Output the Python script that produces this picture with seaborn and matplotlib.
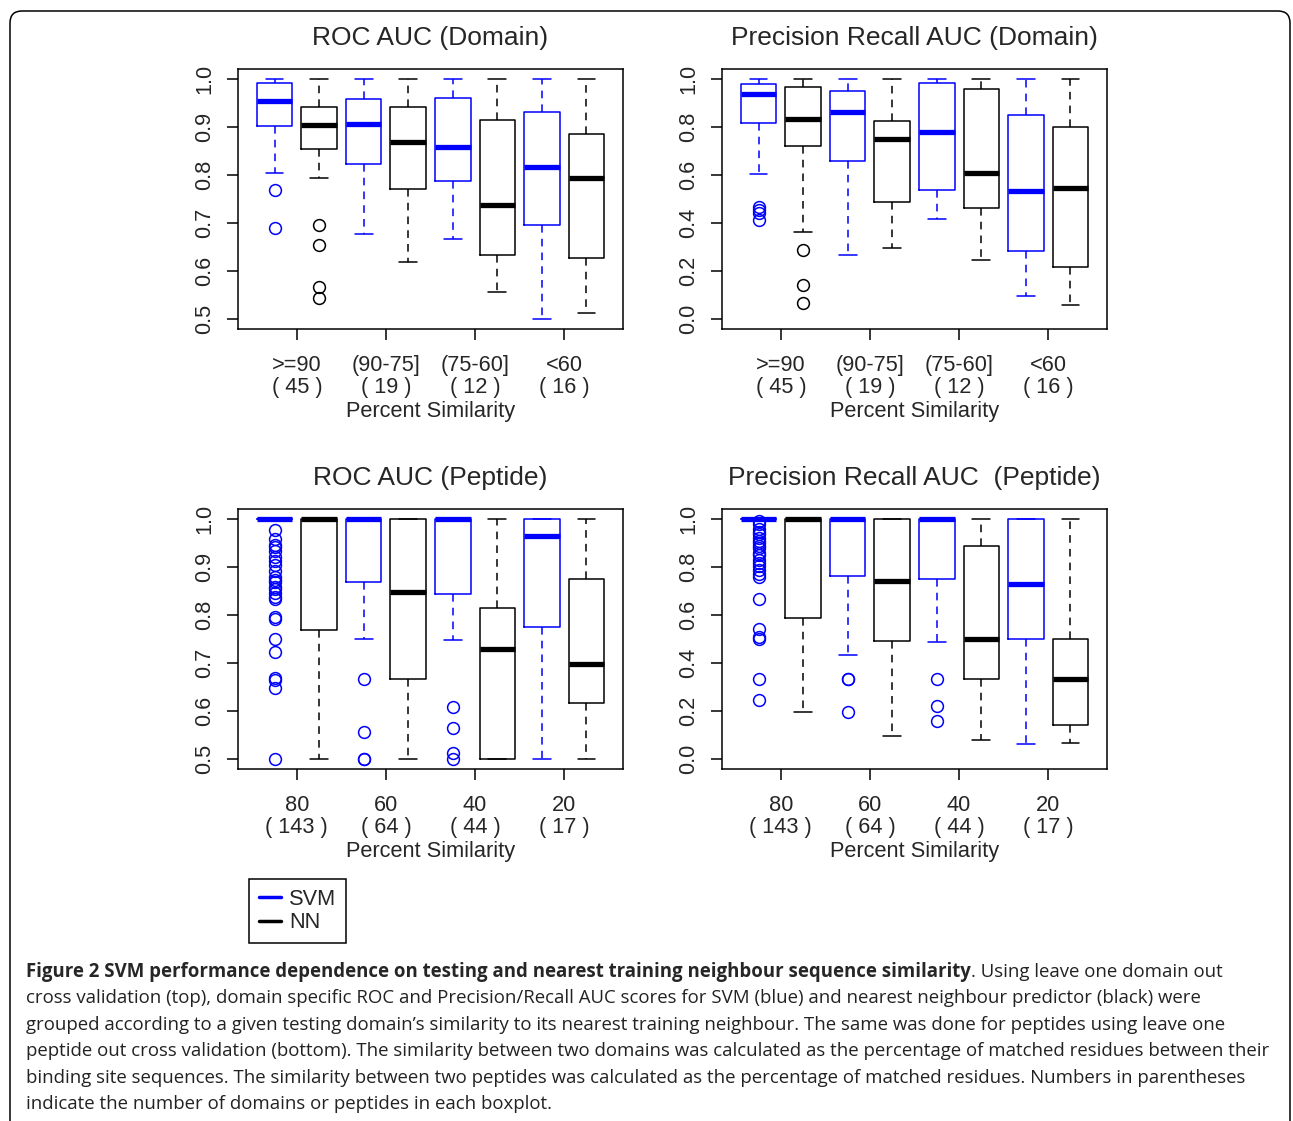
import matplotlib
matplotlib.use("Agg")
import matplotlib.pyplot as plt
import matplotlib.transforms as mtrans
from matplotlib.lines import Line2D
from matplotlib.patches import FancyBboxPatch
import seaborn as sns

# box order in every panel: SVM, NN, SVM, NN, ... (4 similarity groups)
colors = ["#0000FF", "black"] * 4

# ROC AUC (Domain)
roc_dom_hi = [1.0, 1.0, 1.0, 1.0, 1.0, 1.0, 1.0, 1.0]
roc_dom_q3 = [0.990, 0.941, 0.958, 0.942, 0.959, 0.915, 0.931, 0.884]
roc_dom_med = [0.953, 0.903, 0.905, 0.869, 0.858, 0.737, 0.817, 0.794]
roc_dom_q1 = [0.901, 0.854, 0.823, 0.770, 0.787, 0.633, 0.697, 0.627]
roc_dom_lo = [0.805, 0.793, 0.678, 0.619, 0.667, 0.556, 0.500, 0.513]
roc_dom_fliers = [[0.768, 0.689], [0.696, 0.655, 0.567, 0.544], [], [], [], [], [], []]

# Precision Recall AUC (Domain)
pr_dom_hi = [1.0, 1.0, 1.0, 1.0, 1.0, 1.0, 1.0, 1.0]
pr_dom_q3 = [0.979, 0.967, 0.949, 0.822, 0.982, 0.959, 0.847, 0.800]
pr_dom_med = [0.935, 0.833, 0.860, 0.750, 0.778, 0.610, 0.535, 0.546]
pr_dom_q1 = [0.815, 0.720, 0.659, 0.486, 0.539, 0.463, 0.285, 0.217]
pr_dom_lo = [0.604, 0.363, 0.268, 0.297, 0.417, 0.247, 0.095, 0.058]
pr_dom_fliers = [[0.465, 0.455, 0.442, 0.413], [0.290, 0.144, 0.069], [], [], [], [], [], []]

# ROC AUC (Peptide)
roc_pep_hi = [1.0, 1.0, 1.0, 1.0, 1.0, 1.0, 1.0, 1.0]
roc_pep_q3 = [1.0, 1.0, 1.0, 1.0, 1.0, 0.815, 1.0, 0.875]
roc_pep_med = [1.0, 1.0, 1.0, 0.847, 1.0, 0.730, 0.964, 0.699]
roc_pep_q1 = [1.0, 0.768, 0.869, 0.666, 0.844, 0.500, 0.775, 0.617]
roc_pep_lo = [1.0, 0.500, 0.750, 0.500, 0.748, 0.500, 0.500, 0.500]
roc_pep_fliers = [
    [0.976, 0.957, 0.946, 0.941, 0.932, 0.920, 0.913, 0.903, 0.892, 0.879,
     0.873, 0.868, 0.859, 0.854, 0.845, 0.838, 0.833, 0.796, 0.791, 0.750,
     0.722, 0.669, 0.664, 0.648, 0.500],
    [],
    [0.666, 0.556, 0.500, 0.500],
    [],
    [0.609, 0.566, 0.514, 0.500],
    [], [], [],
]

# Precision Recall AUC (Peptide)
pr_pep_hi = [1.0, 1.0, 1.0, 1.0, 1.0, 1.0, 1.0, 1.0]
pr_pep_q3 = [1.0, 1.0, 1.0, 1.0, 1.0, 0.886, 1.0, 0.499]
pr_pep_med = [1.0, 1.0, 1.0, 0.742, 1.0, 0.499, 0.729, 0.332]
pr_pep_q1 = [1.0, 0.586, 0.760, 0.490, 0.748, 0.332, 0.499, 0.141]
pr_pep_lo = [1.0, 0.198, 0.434, 0.098, 0.488, 0.081, 0.064, 0.070]
pr_pep_fliers = [
    [0.990, 0.976, 0.955, 0.946, 0.937, 0.920, 0.909, 0.900, 0.886, 0.876,
     0.858, 0.847, 0.830, 0.816, 0.802, 0.788, 0.771, 0.757, 0.665, 0.541,
     0.508, 0.498, 0.332, 0.248],
    [],
    [0.332, 0.332, 0.198],
    [],
    [0.332, 0.223, 0.158],
    [], [], [],
]

domain_labels = [">=90\n( 45 )", "(90-75]\n( 19 )", "(75-60]\n( 12 )", "<60\n( 16 )"]
peptide_labels = ["80\n( 143 )", "60\n( 64 )", "40\n( 44 )", "20\n( 17 )"]

roc_ticks = [0.5, 0.6, 0.7, 0.8, 0.9, 1.0]
pr_ticks = [0.0, 0.2, 0.4, 0.6, 0.8, 1.0]

caption_bold = ("Figure 2 SVM performance dependence on testing and nearest "
                "training neighbour sequence similarity")
caption_lines = [
    ". Using leave one domain out",
    "cross validation (top), domain specific ROC and Precision/Recall AUC scores for SVM (blue) and nearest neighbour predictor (black) were",
    "grouped according to a given testing domain\u2019s similarity to its nearest training neighbour. The same was done for peptides using leave one",
    "peptide out cross validation (bottom). The similarity between two domains was calculated as the percentage of matched residues between their",
    "binding site sequences. The similarity between two peptides was calculated as the percentage of matched residues. Numbers in parentheses",
    "indicate the number of domains or peptides in each boxplot.",
]

sns.set_style("ticks")
plt.rcParams["font.family"] = ["Liberation Sans", "DejaVu Sans"]

W, H = 1293, 1121
fig = plt.figure(figsize=(W / 100, H / 100), dpi=100)

TICK_FS = 15.7
TITLE_FS = 19


def panel(rect, title, hi, q3, med, q1, lo, fliers, labels, yticks, ylim):
    ax = fig.add_axes(rect)
    for i in range(8):
        st = [{"whishi": hi[i], "q3": q3[i], "med": med[i], "q1": q1[i],
               "whislo": lo[i], "fliers": fliers[i]}]
        c = colors[i]
        ax.bxp(st, positions=[i + 1], widths=0.8, capwidths=0.4,
               boxprops=dict(color=c, lw=1.1),
               whiskerprops=dict(color=c, lw=1.1, linestyle=(0, (5, 4))),
               capprops=dict(color=c, lw=1.1),
               medianprops=dict(color=c, lw=3.8, solid_capstyle="butt"),
               flierprops=dict(marker="o", markerfacecolor="none",
                               markeredgecolor=c, markersize=8.5, mew=1.1))
    ax.set_xlim(0.18, 8.82)
    ax.set_ylim(*ylim)
    ax.set_xticks([1.5, 3.5, 5.5, 7.5])
    ax.set_xticklabels(labels, fontsize=TICK_FS, linespacing=1.1)
    ax.set_yticks(yticks)
    ax.set_yticklabels([f"{v:.1f}" for v in yticks], fontsize=TICK_FS,
                       rotation=90, va="center")
    ax.tick_params(axis="both", length=8, width=1.1, color="black", pad=8.5)
    ax.tick_params(axis="x", pad=10.5)
    for s in ax.spines.values():
        s.set_linewidth(1.1)
        s.set_color("black")
    ax.set_xlabel("Percent Similarity", fontsize=TICK_FS, labelpad=2)
    ax.set_title(title, fontsize=TITLE_FS, pad=17)
    return ax


x_left = [238 / W, 722 / W]
aw = 385 / W
ah = 260 / H
y_top = 1 - 329 / H
y_bot = 1 - 769 / H

panel([x_left[0], y_top, aw, ah], "ROC AUC (Domain)", roc_dom_hi, roc_dom_q3,
      roc_dom_med, roc_dom_q1, roc_dom_lo, roc_dom_fliers, domain_labels,
      roc_ticks, (0.48, 1.02))
panel([x_left[1], y_top, aw, ah], "Precision Recall AUC (Domain)", pr_dom_hi,
      pr_dom_q3, pr_dom_med, pr_dom_q1, pr_dom_lo, pr_dom_fliers, domain_labels,
      pr_ticks, (-0.04, 1.04))
panel([x_left[0], y_bot, aw, ah], "ROC AUC (Peptide)", roc_pep_hi, roc_pep_q3,
      roc_pep_med, roc_pep_q1, roc_pep_lo, roc_pep_fliers, peptide_labels,
      roc_ticks, (0.48, 1.02))
panel([x_left[1], y_bot, aw, ah], "Precision Recall AUC  (Peptide)", pr_pep_hi,
      pr_pep_q3, pr_pep_med, pr_pep_q1, pr_pep_lo, pr_pep_fliers, peptide_labels,
      pr_ticks, (-0.04, 1.04))

# legend
handles = [Line2D([], [], color="#0000FF", lw=2.5),
           Line2D([], [], color="black", lw=2.5)]
leg = fig.legend(handles, ["SVM", "NN"], loc="upper left",
                 bbox_to_anchor=(249 / W, 1 - 879 / H), borderaxespad=0,
                 fancybox=False, edgecolor="black", framealpha=1,
                 fontsize=TICK_FS, handlelength=1.0, handletextpad=0.4,
                 borderpad=0.45, labelspacing=0.12)
leg.get_frame().set_linewidth(1.1)

# outer rounded frame
frame = FancyBboxPatch((10, -30), 1280, H - 11 + 30,
                       boxstyle="round,pad=0,rounding_size=12",
                       transform=mtrans.IdentityTransform(),
                       facecolor="none", edgecolor="black", lw=1.1)
fig.patches.append(frame)

# caption, sized so the widest line spans the text block width
cap_family = ["Open Sans", "DejaVu Sans"]
x0 = 26 / W
line_y = [972, 998, 1025, 1051, 1078, 1104]
fs = 14
t_bold = fig.text(x0, 1 - line_y[0] / H, caption_bold, fontsize=fs,
                  fontweight="bold", family=cap_family, va="center")
texts = []
for i, line in enumerate(caption_lines):
    texts.append(fig.text(x0, 1 - line_y[i] / H, line, fontsize=fs,
                          family=cap_family, va="center", color="#222222"))
r = fig.canvas.get_renderer()
widths = [t.get_window_extent(r).width for t in texts]
widths[0] += t_bold.get_window_extent(r).width
fs = fs * (1250 / max(widths))
t_bold.set_fontsize(fs)
for t in texts:
    t.set_fontsize(fs)
wb = t_bold.get_window_extent(r).width
texts[0].set_x(x0 + wb / W)

fig.savefig("out.png", dpi=100)
